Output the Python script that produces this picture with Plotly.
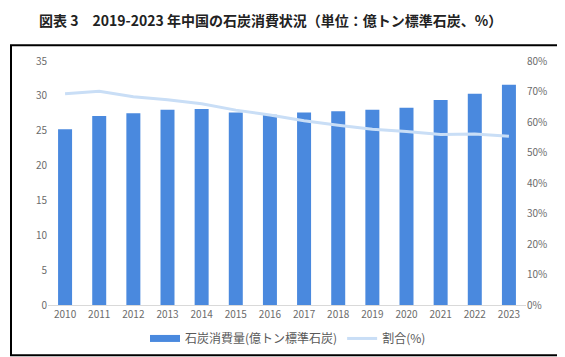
import plotly.graph_objects as go

years = ["2010","2011","2012","2013","2014","2015","2016","2017","2018","2019","2020","2021","2022","2023"]
consumption = [25.2, 27.1, 27.5, 28.0, 28.1, 27.6, 27.3, 27.6, 27.8, 28.0, 28.3, 29.4, 30.3, 31.6]
share = [69.3, 70.1, 68.3, 67.3, 66.0, 63.9, 62.3, 60.4, 58.9, 57.6, 56.9, 55.9, 56.1, 55.3]
left_ticks = [0, 5, 10, 15, 20, 25, 30, 35]
right_ticks = [0, 10, 20, 30, 40, 50, 60, 70, 80]
right_labels = ["0%", "10%", "20%", "30%", "40%", "50%", "60%", "70%", "80%"]

title = "図表 3　2019-2023 年中国の石炭消費状況（単位：億トン標準石炭、%）"
bar_name = "石炭消費量(億トン標準石炭)"
line_name = "割合(%)"

W, H = 565, 357
L, R, T, B = 40, 47, 53, 56
pw, ph = W - L - R, H - T - B

font = "Noto Sans CJK JP, Noto Sans, sans-serif"
tick_color = "#6b6b6b"
bar_color = "#4a89de"

fig = go.Figure()
fig.add_trace(go.Bar(x=years, y=consumption, name=bar_name, marker_color=bar_color,
                     marker_line_width=0, width=0.41, yaxis="y", showlegend=False,
                     legendgroup="bar"))
# legend entry for bars drawn as a flat wide swatch
fig.add_trace(go.Scatter(x=[None], y=[None], name=bar_name, mode="lines",
                         line=dict(color=bar_color, width=7), legendgroup="bar"))
fig.add_trace(go.Scatter(x=years, y=share, name=line_name, mode="lines",
                         line=dict(color="#c9def6", width=3), yaxis="y2"))

def px_x(p):
    return (p - L) / pw
def px_y(p):
    return (H - B - p) / ph

fig.add_shape(type="rect", xref="paper", yref="paper",
              x0=px_x(3), x1=px_x(561), y0=px_y(352), y1=px_y(37),
              line=dict(color="black", width=2), fillcolor="rgba(0,0,0,0)", layer="below")

fig.add_annotation(text="<b>" + title + "</b>", xref="paper", yref="paper",
                   x=px_x(262), y=px_y(11), xanchor="center", yanchor="middle",
                   showarrow=False, font=dict(family=font, size=14, color="#222222"))

fig.update_layout(
    width=W, height=H,
    margin=dict(l=L, r=R, t=T, b=B),
    paper_bgcolor="white", plot_bgcolor="white",
    font=dict(family=font, size=10, color=tick_color),
    xaxis=dict(type="category", showgrid=False, showline=True, linecolor="#d9d9d9",
               linewidth=1, ticks="", tickfont=dict(size=10, color=tick_color), range=[-0.5, 13.5]),
    yaxis=dict(range=[0, 35], tickvals=left_ticks, showgrid=False, zeroline=False,
               showline=False, ticks="", tickfont=dict(size=10, color=tick_color)),
    yaxis2=dict(range=[0, 80], tickvals=right_ticks, ticktext=right_labels, overlaying="y",
                side="right", showgrid=False, zeroline=False, showline=False, ticks="",
                tickfont=dict(size=10, color=tick_color)),
    showlegend=True,
    legend=dict(orientation="h", x=px_x(280), xanchor="center", y=px_y(335), yanchor="middle",
                font=dict(size=12, color="#595959"), itemwidth=30, bgcolor="rgba(0,0,0,0)"),
)

fig.write_html("out.html")
